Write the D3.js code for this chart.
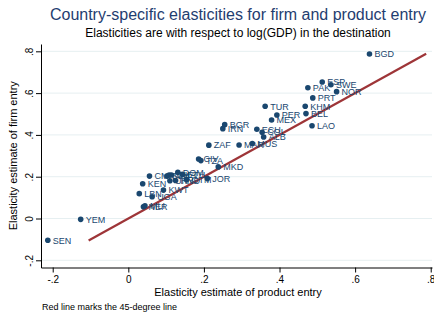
<!DOCTYPE html>
<html>
<head>
<meta charset="utf-8">
<script src="https://cdn.jsdelivr.net/npm/d3@7"></script>
<style>
  body { margin: 0; background: #fff; }
  text { font-family: "Liberation Sans", Arial, sans-serif; }
</style>
</head>
<body>
<div class="chart"></div>
<script>
// Country codes, product-entry elasticities (x) and firm-entry elasticities (y)
const countries = ["BGD","ESP","SWE","NOR","PAK","PRT","KHM","BEL","LAO","TUR",
  "PER","MEX","BGR","IRN","ECU","COL","ALB","MUS","MAR","ZAF",
  "CIV","TZA","MKD","JOR","DOM","CMR","KEN","LBN","KWT","UGA",
  "NER","MLI","SLV","CHL","GHA","ETH","URY","HND","GTM","YEM","SEN"];
const productEntry = [0.638,0.513,0.536,0.551,0.475,0.488,0.468,0.470,0.486,0.362,
  0.393,0.379,0.255,0.250,0.340,0.354,0.358,0.328,0.293,0.213,
  0.186,0.192,0.238,0.209,0.131,0.056,0.038,0.029,0.093,0.063,
  0.040,0.044,0.102,0.108,0.114,0.143,0.110,0.125,0.154,-0.126,-0.213];
const firmEntry = [0.787,0.653,0.640,0.607,0.626,0.577,0.537,0.502,0.444,0.537,
  0.495,0.471,0.449,0.430,0.427,0.413,0.390,0.359,0.352,0.351,
  0.285,0.277,0.247,0.192,0.221,0.203,0.166,0.119,0.136,0.104,
  0.056,0.061,0.203,0.208,0.208,0.211,0.181,0.182,0.186,-0.004,-0.104];
const xTicks = [-0.2, 0, 0.2, 0.4, 0.6, 0.8];
const yTicks = [-0.2, 0, 0.2, 0.4, 0.6, 0.8];
const lineRange = [-0.105, 0.788];   // extent of the 45-degree reference line

const W = 434, H = 314;
const plot = { left: 41, right: 432, top: 44, bottom: 267.5 };

const svg = d3.select(".chart").append("svg")
    .attr("width", W)
    .attr("height", H);

const xScale = d3.scaleLinear()
    .domain([-0.231, 0.8034])
    .range([plot.left, plot.right]);

const yScale = d3.scaleLinear()
    .domain([-0.2344, 0.835])
    .range([plot.bottom, plot.top]);

const fmt = v => v === 0 ? "0" : String(+v.toFixed(1)).replace("0.", ".");

// gridlines
svg.append("g")
    .selectAll("line")
    .data(yTicks)
    .join("line")
    .attr("x1", plot.left).attr("x2", plot.right)
    .attr("y1", d => yScale(d)).attr("y2", d => yScale(d))
    .attr("stroke", "#e6eff1")
    .attr("stroke-width", 1);

// axes
const xAxis = d3.axisBottom(xScale).tickValues(xTicks).tickFormat(fmt)
    .tickSize(5).tickSizeOuter(0).tickPadding(3);
const yAxis = d3.axisLeft(yScale).tickValues(yTicks).tickFormat(fmt)
    .tickSize(5).tickSizeOuter(0);

const gx = svg.append("g")
    .attr("transform", `translate(0,${plot.bottom})`)
    .call(xAxis);
gx.selectAll("text").attr("font-size", 10).attr("fill", "#000")
    .attr("font-family", "Liberation Sans, Arial, sans-serif");

const gy = svg.append("g")
    .attr("transform", `translate(${plot.left},0)`)
    .call(yAxis);
gy.selectAll("text")
    .attr("transform", "rotate(-90)")
    .attr("x", 0).attr("y", -8.5).attr("dy", 0)
    .attr("text-anchor", "middle")
    .attr("font-size", 10).attr("fill", "#000")
    .attr("font-family", "Liberation Sans, Arial, sans-serif");

svg.selectAll(".domain, .tick line").attr("stroke", "#000");

// 45-degree line
svg.append("line")
    .attr("x1", xScale(lineRange[0])).attr("y1", yScale(lineRange[0]))
    .attr("x2", xScale(lineRange[1])).attr("y2", yScale(lineRange[1]))
    .attr("stroke", "#9e3538")
    .attr("stroke-width", 2.2);

// points and labels
const data = countries.map((c, i) => ({ c, x: productEntry[i], y: firmEntry[i] }));

svg.append("g")
    .selectAll("circle")
    .data(data)
    .join("circle")
    .attr("cx", d => xScale(d.x))
    .attr("cy", d => yScale(d.y))
    .attr("r", 2.8)
    .attr("fill", "#1a476f");

svg.append("g")
    .selectAll("text")
    .data(data)
    .join("text")
    .attr("x", d => xScale(d.x) + 5)
    .attr("y", d => yScale(d.y) + 3.3)
    .attr("font-size", 9)
    .attr("fill", "#1a476f")
    .text(d => d.c);

// titles
svg.append("text")
    .attr("x", 238).attr("y", 20)
    .attr("text-anchor", "middle")
    .attr("font-size", 16)
    .attr("fill", "#1f3d70")
    .text("Country-specific elasticities for firm and product entry");

svg.append("text")
    .attr("x", 238).attr("y", 37)
    .attr("text-anchor", "middle")
    .attr("font-size", 12)
    .attr("fill", "#000")
    .text("Elasticities are with respect to log(GDP) in the destination");

svg.append("text")
    .attr("x", 238).attr("y", 296)
    .attr("text-anchor", "middle")
    .attr("font-size", 11)
    .attr("fill", "#000")
    .text("Elasticity estimate of product entry");

svg.append("text")
    .attr("transform", `translate(16.5,${(plot.top + plot.bottom) / 2}) rotate(-90)`)
    .attr("text-anchor", "middle")
    .attr("font-size", 11)
    .attr("fill", "#000")
    .text("Elasticity estimate of firm entry");

svg.append("text")
    .attr("x", 42).attr("y", 310)
    .attr("font-size", 9)
    .attr("fill", "#000")
    .text("Red line marks the 45-degree line");
</script>
</body>
</html>
